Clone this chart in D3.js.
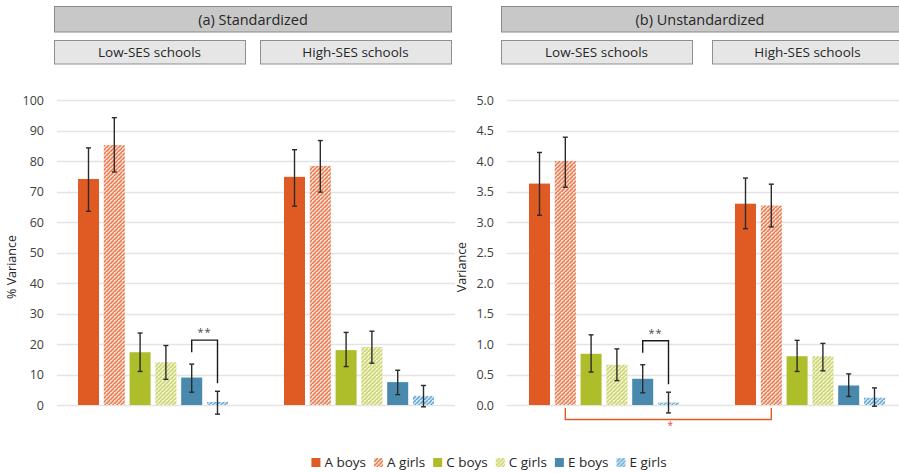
<!DOCTYPE html>
<html>
<head>
<meta charset="utf-8">
<script src="https://cdn.jsdelivr.net/npm/d3@7/dist/d3.min.js"></script>
<style>
  html, body { margin: 0; padding: 0; background: #fff; }
  svg { display: block; }
  text { font-family: "Open Sans", "DejaVu Sans", sans-serif; }
</style>
</head>
<body>
<svg id="chart" width="899" height="473"></svg>
<script>
// ---- data -------------------------------------------------------------
const schoolGroups = ["Low-SES schools", "High-SES schools"];
const seriesNames = ["A boys", "A girls", "C boys", "C girls", "E boys", "E girls"];

// (a) standardized: % of variance
const stdLow     = [74.1, 85.2, 17.3, 14.0, 9.0, 1.0];
const stdLowLo   = [63.5, 76.4, 11.0, 8.4, 4.2, -3.0];
const stdLowHi   = [84.3, 94.2, 23.6, 19.5, 13.4, 4.5];
const stdHigh    = [74.8, 78.4, 18.0, 19.0, 7.5, 3.0];
const stdHighLo  = [65.2, 69.8, 12.6, 13.7, 3.4, -0.6];
const stdHighHi  = [83.7, 86.7, 23.8, 24.2, 11.4, 6.4];
const stdTicks   = [0, 10, 20, 30, 40, 50, 60, 70, 80, 90, 100];

// (b) unstandardized: variance
const rawLow     = [3.63, 4.00, 0.84, 0.66, 0.43, 0.04];
const rawLowLo   = [3.11, 3.57, 0.54, 0.40, 0.20, -0.13];
const rawLowHi   = [4.14, 4.39, 1.15, 0.92, 0.66, 0.21];
const rawHigh    = [3.30, 3.27, 0.80, 0.80, 0.32, 0.12];
const rawHighLo  = [2.89, 2.92, 0.55, 0.56, 0.14, -0.02];
const rawHighHi  = [3.72, 3.62, 1.06, 1.01, 0.51, 0.28];
const rawTicks   = [0, 0.5, 1.0, 1.5, 2.0, 2.5, 3.0, 3.5, 4.0, 4.5, 5.0];

// significance markers
const withinMarks = [ { group: 0, from: 4, to: 5, label: "**" } ];       // both panels
const acrossMarks = [ { panel: 1, series: 1, label: "*" } ];              // low vs high

// ---- styling ----------------------------------------------------------
const ORANGE = "#E05A24", GREEN = "#AEBE2B", BLUE = "#4A89AE";
const svg = d3.select("#chart");
const defs = svg.append("defs");

// fine wave-like hatch used for the girls' series
function hatch(id, bg, fg, sw) {
  const p = defs.append("pattern").attr("id", id)
    .attr("patternUnits", "userSpaceOnUse").attr("width", 4).attr("height", 4);
  p.append("rect").attr("width", 4).attr("height", 4).attr("fill", bg);
  p.append("path").attr("d", "M0,4 L4,0 M-1,1 L1,-1 M3,5 L5,3")
    .attr("stroke", fg).attr("stroke-width", sw);
  p.append("rect").attr("x", 0).attr("y", 0).attr("width", 1).attr("height", 1).attr("fill", bg);
}
hatch("hA", "#FAE0D4", "#E9774A", 1.5);
hatch("hC", "#F1F4D2", "#CAD36A", 1.5);
hatch("hE", "#D7EAF5", "#62A8D4", 1.5);

const fills = [ORANGE, "url(#hA)", GREEN, "url(#hC)", BLUE, "url(#hE)"];

const panels = [
  { title: "(a) Standardized", yTitle: "% Variance", max: 100, ticks: stdTicks, fmt: d3.format("d"),
    vals: [stdLow, stdHigh], lo: [stdLowLo, stdHighLo], hi: [stdLowHi, stdHighHi],
    xRange: [50, 462], gridX: [57, 455], headX: 54, subW: 191, subGap: 15, headW: 397,
    tickX: 44, titleX: 16 },
  { title: "(b) Unstandardized", yTitle: "Variance", max: 5, ticks: rawTicks, fmt: d3.format(".1f"),
    vals: [rawLow, rawHigh], lo: [rawLowLo, rawHighLo], hi: [rawLowHi, rawHighHi],
    xRange: [501, 913], gridX: [507, 899], headX: 501, subW: 191, subGap: 20, headW: 400,
    tickX: 494, titleX: 466 }
];

const yRange = [405, 100];

panels.forEach((P, pi) => {
  const g = svg.append("g");
  const y = d3.scaleLinear().domain([0, P.max]).range(yRange);
  const x0 = d3.scaleBand().domain(schoolGroups).range(P.xRange).paddingInner(0).paddingOuter(0);
  const barsW = 150;
  const x1 = d3.scaleBand().domain(seriesNames).range([0, barsW]).paddingInner(0.186).paddingOuter(0);
  const groupLeft = grp => x0(grp) + (x0.bandwidth() - barsW) / 2;
  P.y = y; P.x1 = x1; P.groupLeft = groupLeft;

  // headers
  g.append("rect").attr("x", P.headX + 0.5).attr("y", 6.5).attr("width", P.headW).attr("height", 25.5)
    .attr("fill", "#C8C8C8").attr("stroke", "#8A8A8A").attr("stroke-width", 1);
  g.append("text").attr("x", P.headX + 199).attr("y", 24.5).attr("text-anchor", "middle")
    .attr("font-size", 14.5).attr("fill", "#262626").text(P.title);
  schoolGroups.forEach((s, i) => {
    const sx = P.headX + i * (P.subW + P.subGap);
    g.append("rect").attr("x", sx + 0.5).attr("y", 40.5).attr("width", P.subW).attr("height", 23.5)
      .attr("fill", "#E6E6E6").attr("stroke", "#8F8F8F").attr("stroke-width", 1);
    g.append("text").attr("x", sx + P.subW / 2).attr("y", 57).attr("text-anchor", "middle")
      .attr("font-size", 13.5).attr("fill", "#262626").text(s);
  });

  // gridlines and tick labels
  g.append("g").selectAll("line").data(P.ticks).join("line")
    .attr("x1", P.gridX[0]).attr("x2", P.gridX[1])
    .attr("y1", d => Math.round(y(d)) + 0.5).attr("y2", d => Math.round(y(d)) + 0.5)
    .attr("stroke", "#E4E4E4").attr("stroke-width", 1.5);
  g.append("g").selectAll("text").data(P.ticks).join("text")
    .attr("x", P.tickX).attr("y", d => y(d) + 4.5).attr("text-anchor", "end")
    .attr("font-size", 12.5).attr("fill", "#404040").text(P.fmt);

  g.append("text").attr("transform", `translate(${P.titleX},267) rotate(-90)`)
    .attr("text-anchor", "middle").attr("font-size", 12.5).attr("fill", "#262626").text(P.yTitle);

  // bars and error bars
  schoolGroups.forEach((grp, gi) => {
    const gg = g.append("g").attr("transform", `translate(${groupLeft(grp)},0)`);
    const rows = seriesNames.map((s, si) => ({ s, si, v: P.vals[gi][si], lo: P.lo[gi][si], hi: P.hi[gi][si] }));
    gg.selectAll("rect.bar").data(rows).join("rect").attr("class", "bar")
      .attr("x", d => x1(d.s)).attr("width", x1.bandwidth())
      .attr("y", d => y(d.v)).attr("height", d => y(0) - y(d.v))
      .attr("fill", d => fills[d.si]);
    const eb = gg.selectAll("g.err").data(rows).join("g").attr("class", "err")
      .attr("transform", d => `translate(${x1(d.s) + x1.bandwidth() / 2},0)`)
      .attr("stroke", "#2B2B2B").attr("stroke-width", 1.4);
    eb.append("line").attr("y1", d => y(d.lo)).attr("y2", d => y(d.hi));
    eb.append("line").attr("x1", -2.5).attr("x2", 2.5).attr("y1", d => y(d.lo)).attr("y2", d => y(d.lo));
    eb.append("line").attr("x1", -2.5).attr("x2", 2.5).attr("y1", d => y(d.hi)).attr("y2", d => y(d.hi));
  });

  // within-group significance bracket
  withinMarks.forEach(m => {
    const grp = schoolGroups[m.group];
    const cx = i => groupLeft(grp) + x1(seriesNames[i]) + x1.bandwidth() / 2;
    const hiA = P.hi[m.group][m.from], hiB = P.hi[m.group][m.to];
    const top = y(Math.max(hiA, hiB)) - 24;
    g.append("path")
      .attr("d", `M${cx(m.from)},${y(hiA) - 12} V${top} H${cx(m.to)} V${y(hiB) - 8}`)
      .attr("fill", "none").attr("stroke", "#1A1A1A").attr("stroke-width", 1.4);
    g.append("text").attr("x", (cx(m.from) + cx(m.to)) / 2).attr("y", top - 4)
      .attr("text-anchor", "middle").attr("font-size", 11).attr("letter-spacing", 1)
      .attr("fill", "#4A4A4A").text(m.label);
  });
});

// across-group bracket (low vs high SES)
acrossMarks.forEach(m => {
  const P = panels[m.panel];
  const cx = gi => P.groupLeft(schoolGroups[gi]) + P.x1(seriesNames[m.series]) + P.x1.bandwidth() / 2;
  const base = P.y(0);
  svg.append("path")
    .attr("d", `M${cx(0)},${base + 3} V${base + 14.5} H${cx(1)} V${base + 3}`)
    .attr("fill", "none").attr("stroke", ORANGE).attr("stroke-width", 1.4);
  svg.append("text").attr("x", (cx(0) + cx(1)) / 2 + 2).attr("y", base + 24)
    .attr("text-anchor", "middle").attr("font-size", 10).attr("fill", "#E8463A").text(m.label);
});

// legend
const legend = svg.append("g");
let lx = 0;
seriesNames.forEach((s, i) => {
  const item = legend.append("g").attr("transform", `translate(${lx},0)`);
  item.append("rect").attr("x", 0).attr("y", -8).attr("width", 9).attr("height", 9).attr("fill", fills[i]);
  const t = item.append("text").attr("x", 13).attr("y", 0.5).attr("font-size", 13.5)
    .attr("fill", "#262626").text(s);
  lx += 13 + t.node().getComputedTextLength() + 8;
});
legend.attr("transform", `translate(${489 - (lx - 8) / 2},466)`);
</script>
</body>
</html>
